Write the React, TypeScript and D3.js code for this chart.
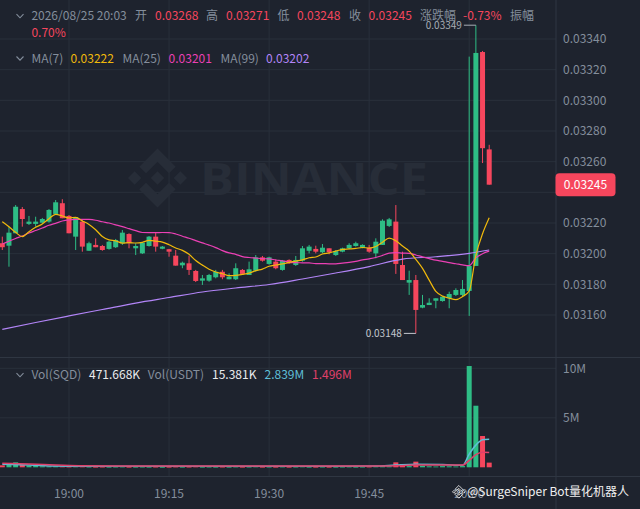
import * as d3 from "d3";

// 1m candles, 18:50 -> 20:03 (SQD/USDT)
const opens = [
  0.032068, 0.032052, 0.032133, 0.032291, 0.032194, 0.032194, 0.032202, 0.032209, 0.032259, 0.032329,
  0.032246, 0.032111, 0.032209, 0.032019, 0.032057, 0.03205, 0.032031, 0.032042, 0.032068, 0.032128,
  0.032035, 0.032002, 0.03205, 0.032111, 0.032032, 0.032029, 0.031987, 0.031924, 0.031937, 0.031887,
  0.031824, 0.031824, 0.031846, 0.031882, 0.031833, 0.031833, 0.031894, 0.031861, 0.031889, 0.031976,
  0.031933, 0.031948, 0.031894, 0.031959, 0.031926, 0.031954, 0.032019, 0.032031, 0.032009, 0.032035,
  0.031991, 0.032013, 0.032035, 0.03205, 0.032039, 0.032039, 0.032002, 0.032057, 0.032181, 0.032209,
  0.031926, 0.031811, 0.031828, 0.031648, 0.031665, 0.031693, 0.031691, 0.031709, 0.031731, 0.031731,
  0.031757, 0.03192, 0.033315, 0.03268,
];
const highs = [
  0.032111, 0.032176, 0.032317, 0.032304, 0.032246, 0.032241, 0.032233, 0.032291, 0.03235, 0.032355,
  0.032252, 0.032239, 0.03222, 0.032078, 0.0321, 0.032057, 0.032083, 0.032096, 0.032154, 0.032133,
  0.032068, 0.032076, 0.032115, 0.032137, 0.03205, 0.032031, 0.032024, 0.031948, 0.031987, 0.031894,
  0.031861, 0.031868, 0.031894, 0.031894, 0.031872, 0.031937, 0.0319, 0.031948, 0.031991, 0.031985,
  0.03198, 0.031963, 0.031959, 0.031963, 0.031985, 0.03205, 0.032057, 0.032052, 0.032063, 0.032035,
  0.032024, 0.032039, 0.032068, 0.032078, 0.032061, 0.032057, 0.0321, 0.032224, 0.032233, 0.032317,
  0.032013, 0.031889, 0.031861, 0.031731, 0.031709, 0.031709, 0.031719, 0.031752, 0.031774, 0.031828,
  0.033285, 0.03349, 0.033322, 0.03271,
];
const lows = [
  0.032024, 0.031915, 0.032133, 0.032176, 0.032187, 0.032176, 0.032194, 0.032202, 0.032252, 0.032231,
  0.032133, 0.032024, 0.032013, 0.032019, 0.032042, 0.032019, 0.032026, 0.032037, 0.032057, 0.032035,
  0.031991, 0.031998, 0.032046, 0.032013, 0.032029, 0.03198, 0.031922, 0.031905, 0.031861, 0.031815,
  0.031796, 0.031817, 0.031839, 0.031833, 0.031833, 0.031828, 0.031861, 0.031861, 0.031882, 0.031948,
  0.031928, 0.031898, 0.031889, 0.031933, 0.03192, 0.031948, 0.032002, 0.032002, 0.032002, 0.031996,
  0.031985, 0.032009, 0.032029, 0.032046, 0.032035, 0.032006, 0.03197, 0.032057, 0.032174, 0.031868,
  0.031828, 0.031731, 0.03148, 0.031644, 0.031665, 0.031644, 0.031687, 0.031644, 0.031724, 0.031724,
  0.031594, 0.03192, 0.032591, 0.03245,
];
const closes = [
  0.032042, 0.032137, 0.032306, 0.032226, 0.032209, 0.032209, 0.032226, 0.032285, 0.032335, 0.032231,
  0.032133, 0.032239, 0.032046, 0.032068, 0.032042, 0.032024, 0.032078, 0.032089, 0.032137, 0.032068,
  0.03205, 0.032072, 0.032111, 0.032046, 0.032046, 0.032013, 0.031922, 0.031941, 0.031894, 0.031822,
  0.031839, 0.031861, 0.031882, 0.031846, 0.03185, 0.031905, 0.031868, 0.031898, 0.031976, 0.031954,
  0.031976, 0.031905, 0.031954, 0.031937, 0.031959, 0.032035, 0.032046, 0.032013, 0.032039, 0.032009,
  0.032017, 0.032035, 0.032057, 0.032068, 0.032057, 0.032013, 0.032078, 0.032215, 0.032224, 0.031933,
  0.031828, 0.031828, 0.031633, 0.031665, 0.03168, 0.031709, 0.031719, 0.031737, 0.031763, 0.03177,
  0.03192, 0.033309, 0.032688, 0.03245,
];
// volume in millions of SQD
const volumes = [
  0.2, 0.27, 0.5, 0.23, 0.17, 0.13, 0.1, 0.08, 0.1, 0.08,
  0.07, 0.1, 0.08, 0.06, 0.05, 0.06, 0.05, 0.06, 0.07, 0.05,
  0.05, 0.06, 0.05, 0.06, 0.04, 0.05, 0.07, 0.05, 0.06, 0.08,
  0.05, 0.06, 0.05, 0.06, 0.05, 0.07, 0.05, 0.06, 0.08, 0.05,
  0.06, 0.05, 0.07, 0.05, 0.06, 0.08, 0.05, 0.05, 0.06, 0.05,
  0.05, 0.06, 0.07, 0.05, 0.06, 0.07, 0.12, 0.15, 0.1, 0.5,
  0.33, 0.12, 0.57, 0.15, 0.1, 0.08, 0.12, 0.1, 0.08, 0.12,
  10.23, 6.22, 3.16, 0.472,
];

// moving averages whose window starts before the visible candles
const ma7Lead = [0.032209, 0.032176, 0.032139, 0.032111, 0.032143, 0.032172];
const ma25Lead = [
  0.032063, 0.032081, 0.032099, 0.032115, 0.032135, 0.032151, 0.032167, 0.032185, 0.032198, 0.032213,
  0.032221, 0.032224, 0.032224, 0.032223, 0.032218, 0.032208, 0.0322, 0.032188, 0.032176, 0.032163,
  0.03215, 0.032138, 0.032137, 0.032137,
];
const ma99Idx = [0, 5, 10, 15, 20, 25, 30, 35, 40, 45, 50, 55, 60, 65, 70, 73];
const ma99 = [
  0.031506, 0.031551, 0.031594, 0.031636, 0.031678, 0.031714, 0.03175, 0.031776, 0.031799, 0.031835,
  0.031874, 0.031916, 0.031965, 0.03198, 0.032002, 0.032024,
];
const volMaIdx = [0, 4, 8, 12, 20, 30, 40, 50, 56, 59, 62, 66, 69, 70, 71, 72, 73];
const volMa5 = [0.31, 0.24, 0.13, 0.1, 0.1, 0.1, 0.1, 0.1, 0.12, 0.22, 0.3, 0.28, 0.2, 1.33, 2.24, 2.79, 2.839];
const volMa10 = [0.4, 0.33, 0.24, 0.16, 0.13, 0.13, 0.13, 0.13, 0.13, 0.16, 0.22, 0.24, 0.22, 0.7, 1.28, 1.53, 1.496];

const priceTicks = [0.0316, 0.0318, 0.032, 0.0322, 0.0324, 0.0326, 0.0328, 0.033, 0.0332, 0.0334];
const volTicks = [5, 10];
const timeTicks = ["19:00", "19:15", "19:30", "19:45", "20:00"];

const W = 640;
const H = 509;
const BG = "#1e232e";
const GRID = "#29303b";
const SEP = "#2f3642";
const TXT = "#848e9c";
const UP = "#2ebd85";
const DOWN = "#f6465d";
const FONT = "'Noto Sans CJK SC', 'Noto Sans', sans-serif";

const LOGO = [
  "M38.73 53.2l24.59-24.58 24.6 24.6 14.3-14.31L63.32 0 24.42 38.9l14.31 14.3z",
  "M0 63.31l14.3-14.31 14.31 14.31-14.31 14.3z",
  "M38.73 73.41l24.59 24.59 24.6-24.6 14.31 14.29-38.9 38.91-38.91-38.88-.02-.02 14.33-14.29z",
  "M98 63.31l14.3-14.31 14.31 14.3-14.31 14.32z",
  "M77.83 63.3L63.32 48.78 48.79 63.3 63.32 77.82z",
];

const t0 = new Date(2026, 7, 25, 18, 50);
const timeAt = (i: number) => new Date(t0.getTime() + i * 60000);

function movingAverage(vals: number[], n: number, lead: number[]) {
  return vals.map((_, i) =>
    i < n - 1 ? lead[i] : (d3.mean(vals.slice(i - n + 1, i + 1)) as number)
  );
}

function Chevron({ x, y }: { x: number; y: number }) {
  return (
    <path
      d={`M${x},${y - 1.8}L${x + 3.5},${y + 1.8}L${x + 7},${y - 1.8}`}
      fill="none"
      stroke={TXT}
      strokeWidth={1.1}
    />
  );
}

export default function App() {
  const x = d3.scaleTime().domain([t0, timeAt(70)]).range([2.3, 469.2]);
  const y = d3.scaleLinear().domain([0.0316, 0.0334]).range([315, 39]);
  const yv = d3.scaleLinear().domain([0, 10]).range([467.3, 368.3]);
  const bw = 5;
  const cx = (i: number) => x(timeAt(i));

  const ma7 = movingAverage(closes, 7, ma7Lead);
  const ma25 = movingAverage(closes, 25, ma25Lead);

  const priceLine = d3
    .line<number>()
    .x((_, i) => cx(i))
    .y((d) => y(d))
    .curve(d3.curveMonotoneX);
  const sparse = (yy: (v: number) => number) =>
    d3
      .line<[number, number]>()
      .x((d) => cx(d[0]))
      .y((d) => yy(d[1]))
      .curve(d3.curveMonotoneX);

  const hiIdx = d3.maxIndex(highs);
  const loIdx = d3.minIndex(lows);
  const last = closes.length - 1;
  const tagY = y(closes[last]);

  const parseTick = (s: string) => {
    const [h, m] = s.split(":").map(Number);
    return new Date(2026, 7, 25, h, m);
  };

  return (
    <div style={{ position: "fixed", left: 0, top: 0 }}>
      <svg width={W} height={H} style={{ display: "block", fontFamily: FONT }}>
        <rect width={W} height={H} fill={BG} />

        {/* grid */}
        {priceTicks.map((p) => (
          <line key={p} x1={0} x2={556} y1={y(p)} y2={y(p)} stroke={GRID} />
        ))}
        {volTicks.map((v) => (
          <line key={v} x1={0} x2={556} y1={yv(v)} y2={yv(v)} stroke={GRID} />
        ))}
        {timeTicks.map((t) => (
          <line key={t} x1={x(parseTick(t))} x2={x(parseTick(t))} y1={0} y2={476.5} stroke={GRID} />
        ))}
        <line x1={0} x2={W} y1={357.5} y2={357.5} stroke={SEP} />
        <line x1={0} x2={W} y1={476.5} y2={476.5} stroke={SEP} />
        <line x1={556} x2={556} y1={0} y2={H} stroke={SEP} />

        {/* watermark */}
        <g transform="translate(128,148.5) scale(0.466)" fill="#272d38">
          {LOGO.map((d) => (
            <path key={d} d={d} />
          ))}
        </g>
        <text
          x={200}
          y={195}
          fontSize={44}
          fontWeight={700}
          fill="#272d38"
          textLength={228}
          lengthAdjust="spacingAndGlyphs"
          fontFamily="'Open Sans', 'Noto Sans', sans-serif"
        >
          BINANCE
        </text>

        {/* candles */}
        {closes.map((c, i) => {
          const o = opens[i];
          const col = c >= o ? UP : DOWN;
          const top = y(Math.max(o, c));
          const bot = y(Math.min(o, c));
          return (
            <g key={i}>
              <line x1={cx(i)} x2={cx(i)} y1={y(highs[i])} y2={y(lows[i])} stroke={col} strokeWidth={1} />
              <rect x={cx(i) - bw / 2} y={top} width={bw} height={Math.max(1, bot - top)} fill={col} />
            </g>
          );
        })}

        {/* moving averages */}
        <path
          d={sparse(y)(ma99Idx.map((k, j) => [k, ma99[j]]) as [number, number][]) ?? ""}
          fill="none"
          stroke="#b385f8"
          strokeWidth={1.2}
        />
        <path d={priceLine(ma25) ?? ""} fill="none" stroke="#eb40b5" strokeWidth={1.2} />
        <path d={priceLine(ma7) ?? ""} fill="none" stroke="#f0b90b" strokeWidth={1.2} />

        {/* high / low markers */}
        <line x1={cx(hiIdx) - 12} x2={cx(hiIdx)} y1={y(highs[hiIdx])} y2={y(highs[hiIdx])} stroke="#a7adb5" />
        <text x={cx(hiIdx) - 14} y={y(highs[hiIdx]) + 3.5} fontSize={10} fill="#a7adb5" textAnchor="end">
          {highs[hiIdx].toFixed(5)}
        </text>
        <line x1={cx(loIdx) - 12} x2={cx(loIdx)} y1={y(lows[loIdx])} y2={y(lows[loIdx])} stroke="#c4c8ce" />
        <text x={cx(loIdx) - 14} y={y(lows[loIdx]) + 3.5} fontSize={10} fill="#c4c8ce" textAnchor="end">
          {lows[loIdx].toFixed(5)}
        </text>

        {/* volume */}
        {volumes.map((v, i) => (
          <rect
            key={i}
            x={cx(i) - bw / 2}
            y={yv(v)}
            width={bw}
            height={Math.max(0.8, yv(0) - yv(v))}
            fill={closes[i] >= opens[i] ? UP : DOWN}
          />
        ))}
        <path
          d={sparse(yv)(volMaIdx.map((k, j) => [k, volMa5[j]]) as [number, number][]) ?? ""}
          fill="none"
          stroke="#5fbfd6"
          strokeWidth={1.5}
        />
        <path
          d={sparse(yv)(volMaIdx.map((k, j) => [k, volMa10[j]]) as [number, number][]) ?? ""}
          fill="none"
          stroke="#e0406a"
          strokeWidth={1.5}
        />

        {/* right axis; the label under the last-price tag is hidden */}
        {priceTicks
          .filter((p) => Math.abs(y(p) - tagY) > 14)
          .map((p) => (
            <text key={p} x={563} y={y(p) + 4.2} fontSize={12} fill={TXT}>
              {p.toFixed(5)}
            </text>
          ))}
        {volTicks.map((v) => (
          <text key={v} x={563} y={yv(v) + 4.2} fontSize={12} fill={TXT}>
            {v}M
          </text>
        ))}
        <rect x={555.5} y={tagY - 11.5} width={60} height={23} rx={4} fill={DOWN} />
        <text x={585.5} y={tagY + 4.3} fontSize={12} fill="#ffffff" textAnchor="middle">
          {closes[last].toFixed(5)}
        </text>

        {/* time axis */}
        {timeTicks.map((t) => (
          <text key={t} x={x(parseTick(t))} y={498} fontSize={12} fill={TXT} textAnchor="middle">
            {t}
          </text>
        ))}

        {/* legends */}
        <g fontSize={12}>
          <Chevron x={16.5} y={16} />
          <text x={31.4} y={20.2} fill={TXT}>2026/08/25 20:03</text>
          <text x={135} y={20.2} fill={TXT}>开</text>
          <text x={155} y={20.2} fill={DOWN}>0.03268</text>
          <text x={206} y={20.2} fill={TXT}>高</text>
          <text x={226} y={20.2} fill={DOWN}>0.03271</text>
          <text x={277.5} y={20.2} fill={TXT}>低</text>
          <text x={297} y={20.2} fill={DOWN}>0.03248</text>
          <text x={349} y={20.2} fill={TXT}>收</text>
          <text x={368.6} y={20.2} fill={DOWN}>0.03245</text>
          <text x={420} y={20.2} fill={TXT}>涨跌幅</text>
          <text x={463} y={20.2} fill={DOWN}>-0.73%</text>
          <text x={510} y={20.2} fill={TXT}>振幅</text>
          <text x={31.4} y={36.5} fill={DOWN}>0.70%</text>

          <Chevron x={16.5} y={58.3} />
          <text x={31.4} y={62.5} fill={TXT}>MA(7)</text>
          <text x={70.6} y={62.5} fill="#f0b90b">0.03222</text>
          <text x={122.4} y={62.5} fill={TXT}>MA(25)</text>
          <text x={168.6} y={62.5} fill="#eb40b5">0.03201</text>
          <text x={220.4} y={62.5} fill={TXT}>MA(99)</text>
          <text x={266} y={62.5} fill="#b385f8">0.03202</text>

          <Chevron x={16.5} y={375} />
          <text x={31.4} y={379.2} fill={TXT}>Vol(SQD)</text>
          <text x={89} y={379.2} fill="#eaecef">471.668K</text>
          <text x={147.8} y={379.2} fill={TXT}>Vol(USDT)</text>
          <text x={212} y={379.2} fill="#eaecef">15.381K</text>
          <text x={264.5} y={379.2} fill="#5fbfd6">2.839M</text>
          <text x={312} y={379.2} fill="#e0406a">1.496M</text>
        </g>

        {/* bottom bot watermark */}
        <g transform="translate(452.5,485.5) scale(0.1)" fill="none" stroke="#e8e8e8" strokeWidth={9}>
          {LOGO.map((d) => (
            <path key={d} d={d} />
          ))}
        </g>
        <text x={467} y={495.5} fontSize={12} fill="#f0f0f0">
          @SurgeSniper Bot量化机器人
        </text>
      </svg>
    </div>
  );
}
